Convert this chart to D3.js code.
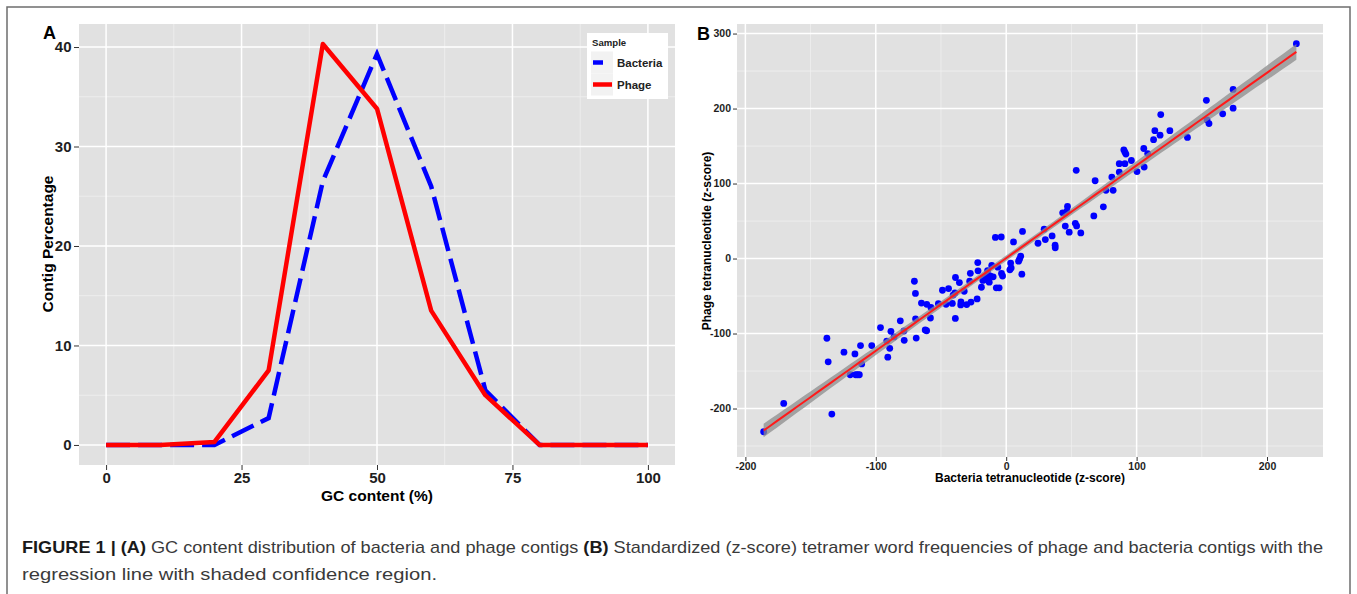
<!DOCTYPE html>
<html>
<head>
<meta charset="utf-8">
<script src="https://cdn.jsdelivr.net/npm/d3@7"></script>
<style>
  html, body { margin: 0; padding: 0; background: #ffffff; }
  svg { display: block; }
  text { font-family: "Liberation Sans", Arial, Helvetica, sans-serif; }
</style>
</head>
<body>
<svg id="fig" width="1357" height="594"></svg>
<script>
// ---------------- DATA ----------------
// Panel A: GC content distribution
const gcContent   = [0, 10, 20, 30, 40, 50, 60, 70, 80, 90, 100];
const bacteriaPct = [0, 0, 0, 2.7, 26.5, 39.3, 26, 5.5, 0, 0, 0];
const phagePct    = [0, 0, 0.3, 7.5, 40.3, 33.8, 13.5, 5, 0, 0, 0];
const gcTicks  = [0, 25, 50, 75, 100];
const pctTicks = [0, 10, 20, 30, 40];
const seriesNames = ["Bacteria", "Phage"];
const legendTitle = "Sample";

// Panel B: tetranucleotide z-scores (bacteria, phage)
const bacteriaZ = [222.5, 174, 174, 153.5, 154, 155.5, 166, 139, 118.5, 125.5, 114, 118, 113, 105.5, 108.5, 105.8, 100.3, 96, 90.2, 91, 91.8, 91, 86.7, 86.7, 81, 82, 76.5, 68.2, 74.5, 67.2, 53.7, 47, 46.6, 43.3, 45.3, 53, 54, 48.3, 57.2, 35.2, 29.1, 30, 24.4, 37.5, 37.6, 12.5, 5.6, -3.8, -8.3, 11.1, 10.2, 9.5, 12, 3.4, 3.8, 2.8, -3.6, -2.8, -5.4, -7.6, -6.4, -11.1, -10, -12.3, -14.3, -15, -13, -14, -16.6, -17.9, -19, -21.8, -21.6, -22.3, -27.5, -28, -27, -30.3, -32.2, -34.7, -34.9, -35.9, -38.9, -39.3, -40.7, -41.3, -39, -44.2, -46.1, -48.9, -52, -57.7, -58.1, -60.9, -65, -62.1, -61, -69.5, -69.6, -70.4, -69, -78.2, -78.4, -81.2, -88.4, -89.3, -90.8, -91.6, -96.4, -103.1, -111.7, -110.8, -112.6, -114, -115.4, -116, -119.6, -124.4, -136.5, -137.5, -133.7, -170.6, -186, -86];
const phageZ    = [286.5, 225.5, 200.5, 211, 185, 180, 193, 161.5, 192, 170.5, 170.5, 164.5, 158.5, 146.7, 140, 122, 116, 130.7, 145, 142, 139.3, 126.5, 126.5, 115.3, 108.6, 91, 91, 103.7, 69, 56.8, 117.6, 69.5, 63.2, 61, 43.3, 47, 43.5, 35.2, 34.2, 30.2, 39.2, 25.3, 20.4, 17.7, 14.4, 36.1, 22.2, 28.7, 28.2, 3.1, -0.8, -3.5, -20.8, -6, -12.6, -15, -19.9, -23.3, -39, -39, -11.5, -9.3, -24.4, -23, -16, -23.5, -31.5, -29.2, -27, -29.2, -38.3, -5.4, -16.4, -53.8, -19.7, -30.3, -58.1, -61.4, -43.6, -57.8, -61.8, -32.1, -25.3, -45.8, -48.7, -59.8, -79.8, -40.1, -61, -42.3, -60.2, -65.2, -79.3, -61.1, -59.4, -95.3, -96.3, -80.4, -46.5, -30.3, -106, -109, -96.6, -83, -97, -119.7, -131.6, -110, -92, -116, -116, -140.5, -155, -155, -155, -127.2, -155, -124.8, -137.8, -106.3, -207.4, -193.2, -231, -104.5];
const zTicksX = [-200, -100, 0, 100, 200];
const zTicksY = [-200, -100, 0, 100, 200, 300];
const tCrit = 1.98; // 95% two-sided t quantile, df ~ 120

const labelA = "A", labelB = "B";
const xTitleA = "GC content (%)", yTitleA = "Contig Percentage";
const xTitleB = "Bacteria tetranucleotide (z-score)", yTitleB = "Phage tetranucleotide (z-score)";

// ---------------- DRAW ----------------
const svg = d3.select("#fig");
const panelBg = "#e1e1e1";
const FONT = '"Liberation Sans", Arial, Helvetica, sans-serif';
const fmt = d => String(d); // plain hyphen-minus like the reference

// outer frame
svg.append("rect").attr("x", 7).attr("y", 7).attr("width", 1343).attr("height", 620)
  .attr("fill", "none").attr("stroke", "#6d6d6d").attr("stroke-width", 1.5);

function minorBreaks(ticks, domain) {
  const out = [];
  for (let i = 0; i < ticks.length - 1; i++) out.push((ticks[i] + ticks[i + 1]) / 2);
  const step = ticks[1] - ticks[0];
  out.push(ticks[0] - step / 2, ticks[ticks.length - 1] + step / 2);
  return out.filter(v => v >= domain[0] && v <= domain[1]);
}

function drawPanel(g, x, y, xt, yt, opts) {
  const [x0, x1] = x.range(), [y1, y0] = y.range();
  g.append("rect").attr("x", x0).attr("y", y0).attr("width", x1 - x0).attr("height", y1 - y0).attr("fill", panelBg);
  const grid = g.append("g");
  minorBreaks(yt, y.domain()).forEach(v => grid.append("line").attr("x1", x0).attr("x2", x1)
    .attr("y1", y(v)).attr("y2", y(v)).attr("stroke", "#f0f0f0").attr("stroke-width", 0.8));
  minorBreaks(xt, x.domain()).forEach(v => grid.append("line").attr("y1", y0).attr("y2", y1)
    .attr("x1", x(v)).attr("x2", x(v)).attr("stroke", "#f0f0f0").attr("stroke-width", 0.8));
  yt.forEach(v => grid.append("line").attr("x1", x0).attr("x2", x1)
    .attr("y1", y(v)).attr("y2", y(v)).attr("stroke", "#ffffff").attr("stroke-width", 1.5));
  xt.forEach(v => grid.append("line").attr("y1", y0).attr("y2", y1)
    .attr("x1", x(v)).attr("x2", x(v)).attr("stroke", "#ffffff").attr("stroke-width", 1.5));

  const ax = g.append("g").attr("transform", `translate(0,${y1})`)
    .call(d3.axisBottom(x).tickValues(xt).tickSize(opts.tick).tickPadding(opts.pad).tickFormat(fmt));
  const ay = g.append("g").attr("transform", `translate(${x0},0)`)
    .call(d3.axisLeft(y).tickValues(yt).tickSize(opts.tick).tickPadding(opts.pad).tickFormat(fmt));
  [ax, ay].forEach(a => {
    a.select(".domain").remove();
    a.selectAll(".tick line").attr("stroke", "#333").attr("stroke-width", 1);
    a.selectAll(".tick text").attr("font-family", FONT).attr("font-weight", "bold")
      .attr("font-size", opts.fs).attr("fill", "#1e1e1e");
  });
}

// ---------- Panel A ----------
const gA = svg.append("g");
const maxPct = d3.max(bacteriaPct.concat(phagePct));
const xA_dom = d3.extent(gcContent);
const padA = (xA_dom[1] - xA_dom[0]) * 0.05;
const xA = d3.scaleLinear().domain([xA_dom[0] - padA, xA_dom[1] + padA]).range([79, 675]);
const yA = d3.scaleLinear().domain([0 - maxPct * 0.05, maxPct * 1.05]).range([465, 24]);
drawPanel(gA, xA, yA, gcTicks, pctTicks, {tick: 5, pad: 2.5, fs: 15});

const lineA = d3.line().x(d => xA(d[0])).y(d => yA(d[1]));
gA.append("path").datum(gcContent.map((g, i) => [g, bacteriaPct[i]]))
  .attr("d", lineA).attr("fill", "none").attr("stroke", "#0000ff")
  .attr("stroke-width", 4.5).attr("stroke-dasharray", "24,8");
gA.append("path").datum(gcContent.map((g, i) => [g, phagePct[i]]))
  .attr("d", lineA).attr("fill", "none").attr("stroke", "#ff0000")
  .attr("stroke-width", 4.5).attr("stroke-linejoin", "round");

gA.append("text").attr("x", 43).attr("y", 39).attr("font-size", 18).attr("font-weight", "bold").text(labelA);
gA.append("text").attr("x", 377).attr("y", 501).attr("text-anchor", "middle")
  .attr("font-size", 15.5).attr("font-weight", "bold").text(xTitleA);
gA.append("text").attr("transform", "translate(52.5,244) rotate(-90)").attr("text-anchor", "middle")
  .attr("font-size", 15.5).attr("font-weight", "bold").text(yTitleA);

// legend
const lg = gA.append("g");
lg.append("rect").attr("x", 587).attr("y", 33).attr("width", 81).attr("height", 66).attr("fill", "#ffffff");
lg.append("text").attr("x", 592).attr("y", 45.5).attr("font-size", 9.6).attr("font-weight", "bold").attr("fill", "#222").text(legendTitle);
const legColors = ["#0000ff", "#ff0000"], legDash = ["10,14", null];
seriesNames.forEach((s, i) => {
  const ky = 51.5 + i * 22;
  lg.append("rect").attr("x", 591).attr("y", ky).attr("width", 22).attr("height", 22).attr("fill", "#f2f2f2");
  lg.append("line").attr("x1", 593).attr("x2", 612).attr("y1", ky + 11).attr("y2", ky + 11)
    .attr("stroke", legColors[i]).attr("stroke-width", 4.5).attr("stroke-dasharray", legDash[i]);
  lg.append("text").attr("x", 617).attr("y", ky + 15.5).attr("font-size", 11.5).attr("font-weight", "bold")
    .attr("fill", "#222").text(s);
});

// ---------- Panel B ----------
const gB = svg.append("g");
const pts = bacteriaZ.map((b, i) => [b, phageZ[i]]);
// linear regression with 95% confidence band (as geom_smooth(method = "lm"))
const n = pts.length;
const xbar = d3.mean(bacteriaZ), ybar = d3.mean(phageZ);
const Sxx = d3.sum(bacteriaZ, v => (v - xbar) ** 2);
const Sxy = d3.sum(pts, p => (p[0] - xbar) * (p[1] - ybar));
const slope = Sxy / Sxx, intercept = ybar - slope * xbar;
const sse = d3.sum(pts, p => (p[1] - (intercept + slope * p[0])) ** 2);
const sRes = Math.sqrt(sse / (n - 2));
const xExt = d3.extent(bacteriaZ);
const fit = d3.range(80).map(i => {
  const xv = xExt[0] + (xExt[1] - xExt[0]) * i / 79;
  const yh = intercept + slope * xv;
  const se = sRes * Math.sqrt(1 / n + (xv - xbar) ** 2 / Sxx);
  return {x: xv, y: yh, lo: yh - tCrit * se, hi: yh + tCrit * se};
});

const padBx = (xExt[1] - xExt[0]) * 0.05;
const yLo = Math.min(d3.min(phageZ), d3.min(fit, d => d.lo));
const yHi = Math.max(d3.max(phageZ), d3.max(fit, d => d.hi));
const padBy = (yHi - yLo) * 0.05;
const xB = d3.scaleLinear().domain([xExt[0] - padBx, xExt[1] + padBx]).range([737, 1323]);
const yB = d3.scaleLinear().domain([yLo - padBy, yHi + padBy]).range([457, 24]);
drawPanel(gB, xB, yB, zTicksX, zTicksY, {tick: 4, pad: 2, fs: 10.5});

gB.append("g").selectAll("circle").data(pts).join("circle")
  .attr("cx", d => xB(d[0])).attr("cy", d => yB(d[1])).attr("r", 3.4).attr("fill", "#0000ff");

gB.append("path").datum(fit)
  .attr("d", d3.area().x(d => xB(d.x)).y0(d => yB(d.lo)).y1(d => yB(d.hi)))
  .attr("fill", "#8c8c8c").attr("opacity", 0.75);
gB.append("path").datum(fit)
  .attr("d", d3.line().x(d => xB(d.x)).y(d => yB(d.y)))
  .attr("fill", "none").attr("stroke", "#ff1a1a").attr("stroke-width", 2);

gB.append("text").attr("x", 697).attr("y", 40).attr("font-size", 18).attr("font-weight", "bold").text(labelB);
gB.append("text").attr("x", 1030).attr("y", 482).attr("text-anchor", "middle")
  .attr("font-size", 12).attr("font-weight", "bold").text(xTitleB);
gB.append("text").attr("transform", "translate(711,241) rotate(-90)").attr("text-anchor", "middle")
  .attr("font-size", 12).attr("font-weight", "bold").text(yTitleB);

// ---------- Caption ----------
const cap1 = [["FIGURE 1 | ", true], ["(A)", true], [" GC content distribution of bacteria and phage contigs ", false],
  ["(B)", true], [" Standardized (z-score) tetramer word frequencies of phage and bacteria contigs with the", false]];
const cap2 = "regression line with shaded confidence region.";
const t1 = svg.append("text").attr("x", 22).attr("y", 553).attr("font-size", 17).attr("fill", "#3a3a3a")
  .attr("textLength", 1301).attr("lengthAdjust", "spacingAndGlyphs");
cap1.forEach(([s, b]) => t1.append("tspan").attr("font-weight", b ? "bold" : "normal")
  .attr("fill", b ? "#1a1a1a" : "#3a3a3a").text(s));
svg.append("text").attr("x", 22).attr("y", 580).attr("font-size", 17).attr("fill", "#3a3a3a")
  .attr("textLength", 415).attr("lengthAdjust", "spacingAndGlyphs").text(cap2);
</script>
</body>
</html>
